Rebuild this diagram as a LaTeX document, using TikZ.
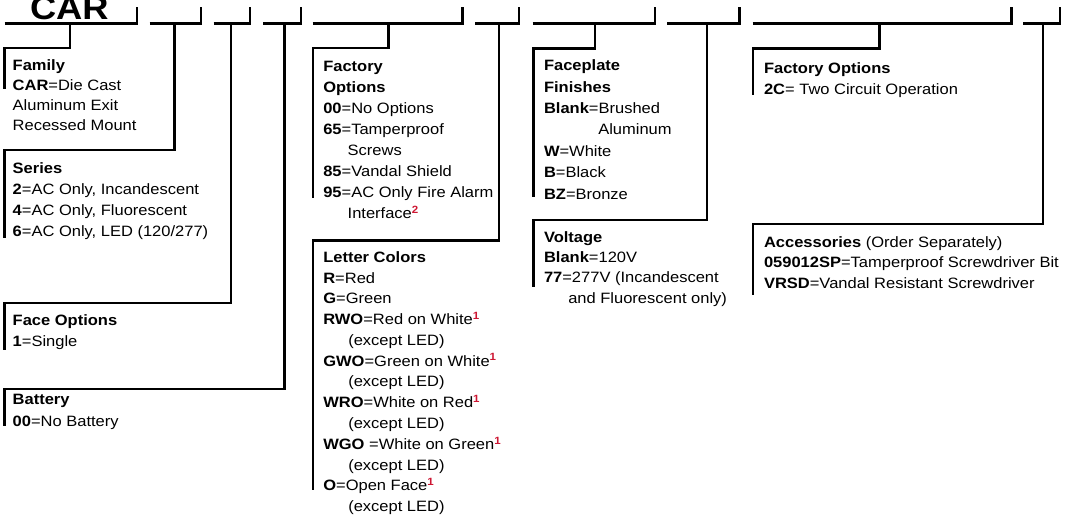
\documentclass[tikz,border=0pt]{standalone}
\usepackage{fontspec}
\setmainfont{Liberation Sans}[FakeStretch=1.1]
\usepackage{xcolor}
\definecolor{supred}{RGB}{205,22,50}
\newcommand\sred[1]{\textsuperscript{\textcolor{supred}{\bfseries #1}}}
\newcommand\blk[2]{{\fontsize{15pt}{#1pt}\selectfont\begin{tabular}[t]{@{}l@{}}#2\end{tabular}}}
\newcommand\segm[7]{%
  \coordinate (#1L) at (#2,23.5); \coordinate (#1R) at (#3,23.5); \coordinate (#1T) at (#3,6.5);
  \coordinate (#1S) at (#4,23.5); \coordinate (#1K) at (#4,#5); \coordinate (#1B) at (#6,#5); \coordinate (#1E) at (#6,#7);
  \draw[bar] (#1L) -- (#1R) -- (#1T);
  \draw[bar] (#1S) -- (#1K) -- (#1B) -- (#1E);}
\tikzset{
  bar/.style={draw=black,line width=2.3pt,line join=miter},
  txt/.style={anchor=base west,inner sep=0pt,outer sep=0pt}
}
\begin{document}
\begin{tikzpicture}[x=1pt,y=-1pt]
\useasboundingbox (0,0) rectangle (1067,515);
% code bar and brackets
\segm{a}{4.5}{136.7}{70}{47.7}{4.5}{89}
\segm{b}{149.5}{200.8}{174.5}{150}{4.5}{238}
\segm{c}{213.5}{250}{231.2}{302.7}{4.5}{350}
\segm{d}{263.4}{301.3}{284.4}{389.3}{4.5}{426}
\segm{e}{312.7}{462.5}{388.4}{47.7}{312.7}{198}
\segm{f}{475.2}{519.3}{498.8}{240.5}{312.7}{490}
\segm{g}{532.7}{655}{594.7}{48.5}{533.5}{197}
\segm{h}{667}{739.6}{707}{220}{533.5}{287}
\segm{i}{752.6}{1011.5}{879.5}{48.5}{753.3}{95}
\segm{j}{1023.3}{1060}{1043.3}{224}{753.3}{295}
% title
\node[txt] (car) at (30,19.5) {\fontsize{33pt}{33pt}\selectfont\bfseries CAR};
% blocks
\node[txt] (family) at (12.7,70.7) {\blk{19.8}{\textbf{Family}\\ \textbf{CAR}=Die Cast\\ Aluminum Exit\\ Recessed Mount}};
\node[txt] (series) at (12.7,173.3) {\blk{21.1}{\textbf{Series}\\ \textbf{2}=AC Only, Incandescent\\ \textbf{4}=AC Only, Fluorescent\\ \textbf{6}=AC Only, LED (120/277)}};
\node[txt] (face) at (12.7,325.7) {\blk{21}{\textbf{Face Options}\\ \textbf{1}=Single}};
\node[txt] (battery) at (12.7,404) {\blk{22}{\textbf{Battery}\\ \textbf{00}=No Battery}};
\node[txt] (factory) at (323.3,71.7) {\blk{20.94}{\textbf{Factory}\\ \textbf{Options}\\ \textbf{00}=No Options\\ \textbf{65}=Tamperproof\\ \hspace*{24.4pt}Screws\\ \textbf{85}=Vandal Shield\\ \textbf{95}=AC Only Fire Alarm\\ \hspace*{24.4pt}Interface\sred{2}}};
\node[txt] (letters) at (323.3,262.3) {\blk{20.78}{\textbf{Letter Colors}\\ \textbf{R}=Red\\ \textbf{G}=Green\\ \textbf{RWO}=Red on White\sred{1}\\ \hspace*{25pt}(except LED)\\ \textbf{GWO}=Green on White\sred{1}\\ \hspace*{25pt}(except LED)\\ \textbf{WRO}=White on Red\sred{1}\\ \hspace*{25pt}(except LED)\\ \textbf{WGO} =White on Green\sred{1}\\ \hspace*{25pt}(except LED)\\ \textbf{O}=Open Face\sred{1}\\ \hspace*{25pt}(except LED)}};
\node[txt] (faceplate) at (544,70.7) {\blk{21.4}{\textbf{Faceplate}\\ \textbf{Finishes}\\ \textbf{Blank}=Brushed\\ \hspace*{54.3pt}Aluminum\\ \textbf{W}=White\\ \textbf{B}=Black\\ \textbf{BZ}=Bronze}};
\node[txt] (voltage) at (544,242.3) {\blk{20.3}{\textbf{Voltage}\\ \textbf{Blank}=120V\\ \textbf{77}=277V (Incandescent\\ \hspace*{24.3pt}and Fluorescent only)}};
\node[txt] (factory2) at (764,73.3) {\blk{21}{\textbf{Factory Options}\\ \textbf{2C}= Two Circuit Operation}};
\node[txt] (access) at (764,247.3) {\blk{20.5}{\textbf{Accessories} (Order Separately)\\ \textbf{059012SP}=Tamperproof Screwdriver Bit\\ \textbf{VRSD}=Vandal Resistant Screwdriver}};
\end{tikzpicture}
\end{document}
